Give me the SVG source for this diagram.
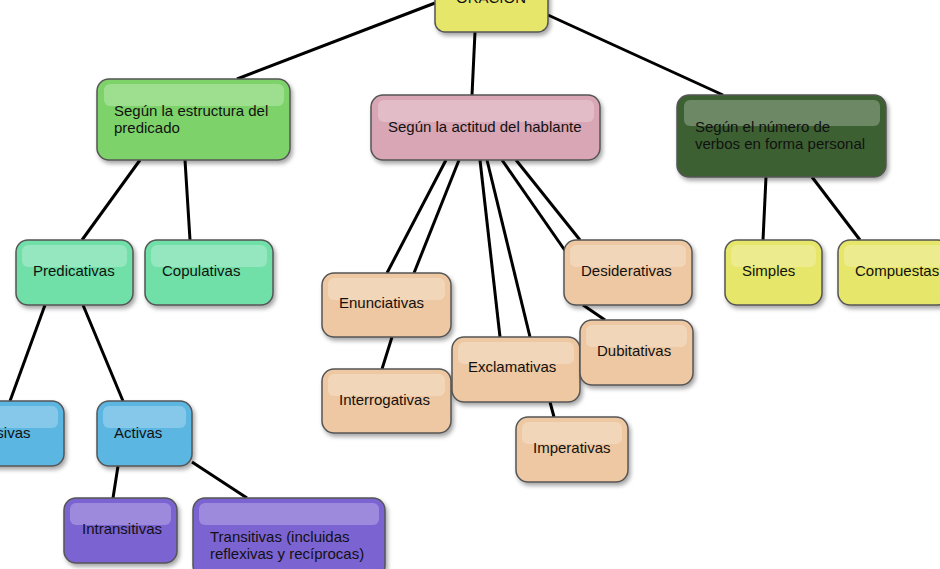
<svg xmlns="http://www.w3.org/2000/svg" width="940" height="569" viewBox="0 0 940 569">
<defs>
<filter id="sh" x="-10%" y="-10%" width="130%" height="140%"><feDropShadow dx="2" dy="3" stdDeviation="2" flood-color="#000" flood-opacity="0.35"/></filter>
</defs>
<style>
.n rect.b{stroke:#555;stroke-width:1.5;filter:url(#sh)}
.n rect.h{fill:#fff;opacity:0.25}
text{font-family:"Liberation Sans",Arial,sans-serif;font-size:15px;fill:#111}
.c line{stroke:#000;stroke-width:3}
.y{fill:#e6e66a}.g{fill:#7dd36a}.p{fill:#d8a6b4}.d{fill:#3d6030}.m{fill:#6fdfa8}.bl{fill:#5cb6e2}.pu{fill:#7b63d2}.t{fill:#eec8a2}
</style>
<rect width="940" height="569" fill="#fff"/>
<g class="c">
<line x1="435" y1="3" x2="237" y2="79"/><line x1="475" y1="32" x2="472" y2="95"/><line x1="548" y1="15" x2="723" y2="95"/>
<line x1="140" y1="160" x2="82" y2="240"/><line x1="185" y1="160" x2="190" y2="240"/>
<line x1="45" y1="305" x2="10" y2="401"/><line x1="83" y1="305" x2="123" y2="401"/>
<line x1="118" y1="466" x2="113" y2="498"/><line x1="192" y1="462" x2="247" y2="498"/>
<line x1="446" y1="160" x2="387" y2="273"/><line x1="459" y1="160" x2="414" y2="273"/>
<line x1="480" y1="160" x2="500" y2="337"/><line x1="487" y1="160" x2="530" y2="337"/>
<line x1="502" y1="160" x2="566" y2="252"/><line x1="516" y1="160" x2="580" y2="240"/>
<line x1="392" y1="337" x2="382" y2="369"/><line x1="550" y1="402" x2="554" y2="417"/><line x1="583" y1="305" x2="605" y2="320"/>
<line x1="766" y1="177" x2="763" y2="240"/><line x1="812" y1="177" x2="860" y2="240"/>
</g>
<g id="oracion" class="n"><rect class="b y" x="435" y="-30" width="113" height="62" rx="10"/><text x="491" y="3" text-anchor="middle">ORACIÓN</text></g>
<g id="estructura" class="n"><rect class="b g" x="97" y="79" width="193" height="81" rx="12"/><rect class="h" x="104" y="84" width="180" height="22" rx="6"/><text x="114" y="116">Según la estructura del</text><text x="114" y="133">predicado</text></g>
<g id="actitud" class="n"><rect class="b p" x="371" y="95" width="229" height="65" rx="12"/><rect class="h" x="378" y="100" width="216" height="22" rx="6"/><text x="388" y="132">Según la actitud del hablante</text></g>
<g id="numero" class="n"><rect class="b d" x="677" y="95" width="209" height="82" rx="12"/><rect class="h" x="684" y="100" width="196" height="26" rx="6"/><text x="695" y="132">Según el número de</text><text x="695" y="149">verbos en forma personal</text></g>
<g id="predicativas" class="n"><rect class="b m" x="16" y="240" width="117" height="65" rx="12"/><rect class="h" x="22" y="245" width="105" height="22" rx="6"/><text x="33" y="276">Predicativas</text></g>
<g id="copulativas" class="n"><rect class="b m" x="145" y="240" width="128" height="65" rx="12"/><rect class="h" x="151" y="245" width="116" height="22" rx="6"/><text x="162" y="276">Copulativas</text></g>
<g id="pasivas" class="n"><rect class="b bl" x="-40" y="401" width="104" height="65" rx="12"/><rect class="h" x="-34" y="406" width="92" height="22" rx="6"/><text x="-22" y="438">Pasivas</text></g>
<g id="activas" class="n"><rect class="b bl" x="97" y="401" width="95" height="65" rx="12"/><rect class="h" x="103" y="406" width="83" height="22" rx="6"/><text x="114" y="438">Activas</text></g>
<g id="intransitivas" class="n"><rect class="b pu" x="64" y="498" width="113" height="65" rx="12"/><rect class="h" x="70" y="503" width="101" height="22" rx="6"/><text x="82" y="534">Intransitivas</text></g>
<g id="transitivas" class="n"><rect class="b pu" x="193" y="498" width="192" height="80" rx="12"/><rect class="h" x="199" y="503" width="180" height="22" rx="6"/><text x="210" y="542">Transitivas (incluidas</text><text x="210" y="559">reflexivas y recíprocas)</text></g>
<g id="enunciativas" class="n"><rect class="b t" x="322" y="273" width="129" height="64" rx="12"/><rect class="h" x="328" y="278" width="117" height="22" rx="6"/><text x="339" y="308">Enunciativas</text></g>
<g id="interrogativas" class="n"><rect class="b t" x="322" y="369" width="129" height="64" rx="12"/><rect class="h" x="328" y="374" width="117" height="22" rx="6"/><text x="339" y="405">Interrogativas</text></g>
<g id="exclamativas" class="n"><rect class="b t" x="452" y="337" width="128" height="65" rx="12"/><rect class="h" x="458" y="342" width="116" height="22" rx="6"/><text x="468" y="372">Exclamativas</text></g>
<g id="desiderativas" class="n"><rect class="b t" x="564" y="240" width="128" height="65" rx="12"/><rect class="h" x="570" y="245" width="116" height="22" rx="6"/><text x="581" y="276">Desiderativas</text></g>
<g id="dubitativas" class="n"><rect class="b t" x="580" y="320" width="113" height="65" rx="12"/><rect class="h" x="586" y="325" width="101" height="22" rx="6"/><text x="597" y="356">Dubitativas</text></g>
<g id="imperativas" class="n"><rect class="b t" x="516" y="417" width="112" height="65" rx="12"/><rect class="h" x="522" y="422" width="100" height="22" rx="6"/><text x="533" y="453">Imperativas</text></g>
<g id="simples" class="n"><rect class="b y" x="725" y="240" width="97" height="65" rx="12"/><rect class="h" x="731" y="245" width="85" height="22" rx="6"/><text x="742" y="276">Simples</text></g>
<g id="compuestas" class="n"><rect class="b y" x="838" y="240" width="112" height="65" rx="12"/><rect class="h" x="844" y="245" width="100" height="22" rx="6"/><text x="855" y="276">Compuestas</text></g>
</svg>
